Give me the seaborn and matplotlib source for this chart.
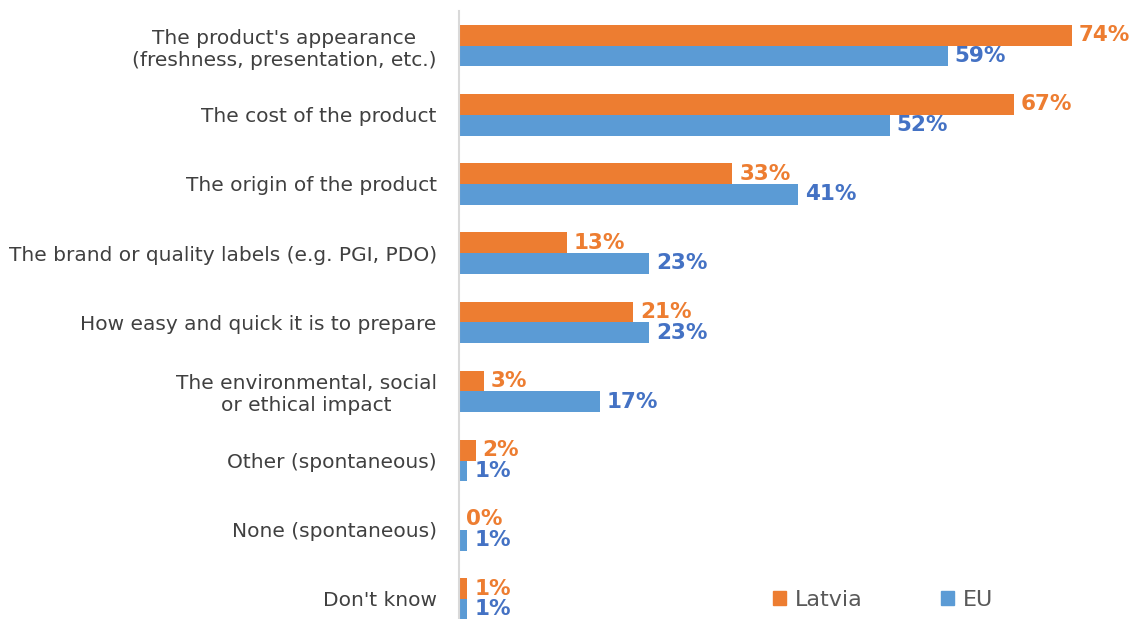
import numpy as np
import matplotlib
matplotlib.use("Agg")
import matplotlib.pyplot as plt
import pandas as pd
import seaborn as sns
from matplotlib.patches import Patch

"Dados do grafico"
categorias = ["The product's appearance\n(freshness, presentation, etc.)",
              "The cost of the product",
              "The origin of the product",
              "The brand or quality labels (e.g. PGI, PDO)",
              "How easy and quick it is to prepare",
              "The environmental, social\nor ethical impact",
              "Other (spontaneous)",
              "None (spontaneous)",
              "Don't know"]
latvia = [74, 67, 33, 13, 21, 3, 2, 0, 1]
eu = [59, 52, 41, 23, 23, 17, 1, 1, 1]
series = ["Latvia", "EU"]

COR_LV = "#ED7D31"
COR_EU = "#5B9BD5"
COR_TXT_EU = "#4472C4"

DATA = pd.DataFrame({
    "Categoria": categorias * 2,
    "Valor": latvia + eu,
    "Serie": [series[0]] * len(categorias) + [series[1]] * len(categorias),
})

sns.set_style("white")
plt.rcParams["font.family"] = ["DejaVu Sans"]

fig = plt.figure(figsize=(11.32, 6.19), dpi=100)
ax = fig.add_axes([459 / 1132, 0, 1 - 459 / 1132, 1 - 11 / 619])

sns.barplot(data=DATA, y="Categoria", x="Valor", hue="Serie", order=categorias,
            hue_order=series, palette=[COR_LV, COR_EU], width=0.6,
            orient="h", ax=ax, legend=False, saturation=1, linewidth=0)

for cont, cor in zip(ax.containers, [COR_LV, COR_TXT_EU]):
    vals = [int(round(b.get_width())) for b in cont]
    ax.bar_label(cont, labels=[f"{v}%" for v in vals], padding=5,
                 color=cor, fontweight="bold", fontsize=15.5)

ax.set_xlim(0, (1132 - 459) / 8.28)
ax.set_ylim(8 + (619 - 599) / 69.1, -0.5)
ax.set_xlabel("")
ax.set_ylabel("")
ax.set_xticks([])
for s in ["top", "right", "bottom"]:
    ax.spines[s].set_visible(False)
ax.spines["left"].set_color("#D9D9D9")
ax.spines["left"].set_linewidth(1.5)
ax.tick_params(axis="y", length=0, pad=16, labelsize=14.5, labelcolor="#404040")
for lab in ax.get_yticklabels():
    lab.set_multialignment("center")

handles = [Patch(color=COR_LV, label="Latvia"), Patch(color=COR_EU, label="EU")]
fig.legend(handles=handles, loc="center left", bbox_to_anchor=(753 / 1132, 1 - 600 / 619),
           ncol=2, frameon=False, fontsize=16, handlelength=0.6, handleheight=0.6,
           handletextpad=0.4, columnspacing=3.5, labelcolor="#595959")

fig.savefig("out.png", dpi=100)
